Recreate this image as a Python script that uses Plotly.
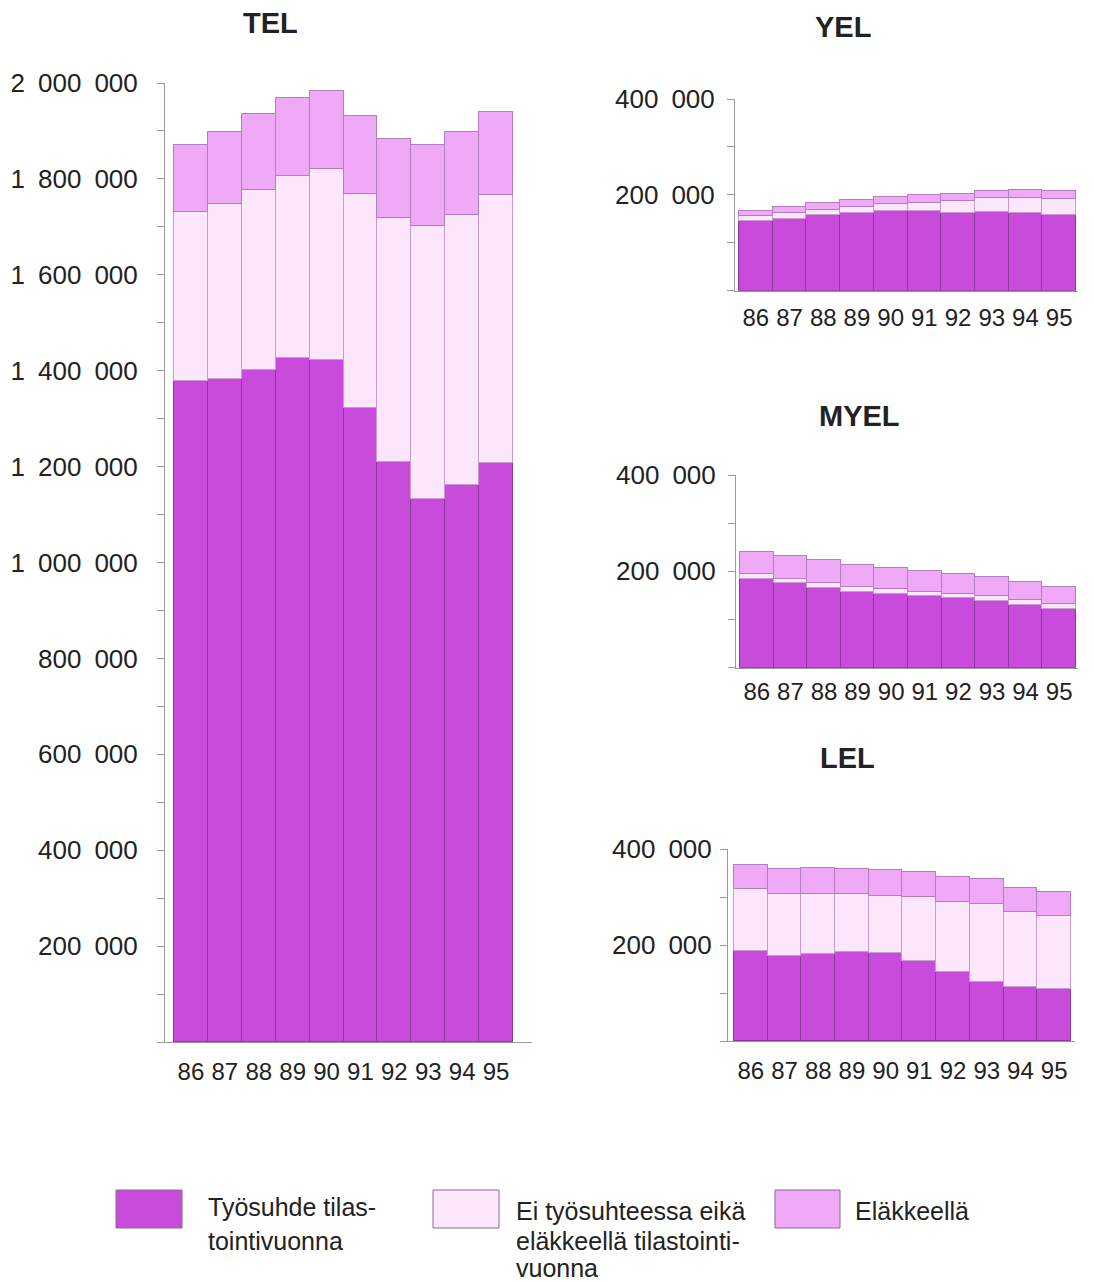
import plotly.graph_objects as go

years = ["86", "87", "88", "89", "90", "91", "92", "93", "94", "95"]

# values in thousands of persons
tel_work    = [1378, 1383, 1402, 1426, 1422, 1322, 1210, 1132, 1162, 1207]
tel_nowork  = [354, 365, 375, 381, 399, 446, 508, 570, 562, 559]
tel_retired = [139, 150, 159, 161, 163, 163, 165, 169, 173, 174]

yel_work    = [145, 150, 157, 162, 166, 166, 163, 164, 162, 158]
yel_nowork  = [11, 12, 11, 13, 14, 18, 24, 29, 31, 33]
yel_retired = [10, 13, 14, 14, 16, 15, 15, 15, 17, 17]

myel_work    = [185, 175, 165, 158, 153, 149, 145, 139, 131, 122]
myel_nowork  = [9, 9, 10, 9, 9.5, 8, 9, 9, 10, 11]
myel_retired = [47, 48, 49, 46, 43.5, 43, 40, 40, 36, 34.5]

lel_work    = [187, 177, 181, 185, 183, 167, 144, 122, 112, 108]
lel_nowork  = [130, 129, 126, 121, 120, 134, 146, 164, 156, 152]
lel_retired = [50, 52, 53, 52, 53, 52, 52, 51, 51, 50]

series_names = ["Työsuhde tilastointivuonna",
                "Ei työsuhteessa eikä eläkkeellä tilastointivuonna",
                "Eläkkeellä"]
panel_titles = ["TEL", "YEL", "MYEL", "LEL"]

C_DARK = "#c94bdc"
C_LIGHT = "#fde7fd"
C_MED = "#efa9f7"
colors = [C_DARK, C_LIGHT, C_MED]
line_colors = ["#8a3a98", "#c79ad0", "#b57ec0"]

W, H = 1094, 1282
OFF = 8  # page body margin
FONT = "Liberation Sans, Arial, sans-serif"
TXT = "#222222"
AX = "#9a9a9a"


def px(x):
    return (x - OFF) / W


def py(y):
    return 1 - (y - OFF) / H


def fmt(v):
    return f"{v:,}".replace(",", "\u2002")


panels = [
    # data, x-domain px, y-domain px, x range, y max, x-label standoff, y-label standoff
    ((tel_work, tel_nowork, tel_retired), (165, 532), (1042, 83), (-0.7655, 10.06), 2000, 8, 14),
    ((yel_work, yel_nowork, yel_retired), (735, 1078), (290.7, 99), (-0.619, 9.559), 400, 5, 7),
    ((myel_work, myel_nowork, myel_retired), (736, 1078), (667.7, 475), (-0.619, 9.56), 400, 2, 7),
    ((lel_work, lel_nowork, lel_retired), (728, 1075), (1041, 849), (-0.678, 9.619), 400, 8, 3),
]

fig = go.Figure()
layout = dict(
    width=W, height=H,
    margin=dict(l=0, r=0, t=0, b=0, pad=0),
    paper_bgcolor="white", plot_bgcolor="white",
    barmode="stack", bargap=0,
    showlegend=False,
    font=dict(family=FONT, color=TXT),
)

for i, (data, xd, yd, xr, ymax, xso, yso) in enumerate(panels):
    n = "" if i == 0 else str(i + 1)
    for k in range(3):
        fig.add_trace(go.Bar(
            x=years, y=[v * 1000 for v in data[k]],
            name=series_names[k],
            marker=dict(color=colors[k], line=dict(color=line_colors[k], width=1)),
            xaxis="x" + n, yaxis="y" + n,
            showlegend=False,
        ))
    tv = list(range(0, ymax * 1000 + 1, 100000))
    tt = [fmt(v) if (v % 200000 == 0 and v > 0) else "" for v in tv]
    layout["xaxis" + n] = dict(
        domain=[px(xd[0]), px(xd[1])], range=list(xr), type="category",
        anchor="y" + n, showline=True, linecolor=AX, linewidth=1,
        ticks="", showgrid=False, zeroline=False, automargin=False,
        tickfont=dict(size=24, color=TXT, family=FONT),
        ticklabelstandoff=xso,
    )
    layout["yaxis" + n] = dict(
        domain=[py(yd[0]), py(yd[1])], range=[0, ymax * 1000],
        anchor="x" + n, showline=True, linecolor=AX, linewidth=1,
        ticks="outside", ticklen=7, tickcolor=AX, tickwidth=1,
        tickvals=tv, ticktext=tt, showgrid=False, zeroline=False,
        automargin=False,
        tickfont=dict(size=26, color=TXT, family=FONT),
        ticklabelstandoff=yso,
    )

fig.update_layout(**layout)

# panel titles
title_pos = [(270.7, 23), (843, 27), (859.5, 416), (847, 758)]
for t, (x, y) in zip(panel_titles, title_pos):
    fig.add_annotation(x=px(x), y=py(y), xref="paper", yref="paper",
                       text=f"<b>{t}</b>", showarrow=False,
                       xanchor="center", yanchor="middle",
                       font=dict(size=29, color=TXT, family=FONT))

# legend (swatches + multi-line labels)
swatches = [(116, 182), (433, 499), (775, 840)]
for (x0, x1), c in zip(swatches, colors):
    fig.add_shape(type="rect", xref="paper", yref="paper",
                  x0=px(x0), x1=px(x1), y0=py(1228), y1=py(1190),
                  fillcolor=c, line=dict(color="#8a6a90", width=1))

legend_lines = [
    ("Työsuhde tilas-", 206, 1207),
    ("tointivuonna", 206, 1241),
    ("Ei työsuhteessa eikä", 514, 1211),
    ("eläkkeellä tilastointi-", 514, 1241),
    ("vuonna", 514, 1268),
    ("Eläkkeellä", 853, 1211),
]
for txt, x, y in legend_lines:
    fig.add_annotation(x=px(x), y=py(y), xref="paper", yref="paper",
                       text=txt, showarrow=False,
                       xanchor="left", yanchor="middle",
                       font=dict(size=25, color=TXT, family=FONT))

fig.write_html("out.html")
